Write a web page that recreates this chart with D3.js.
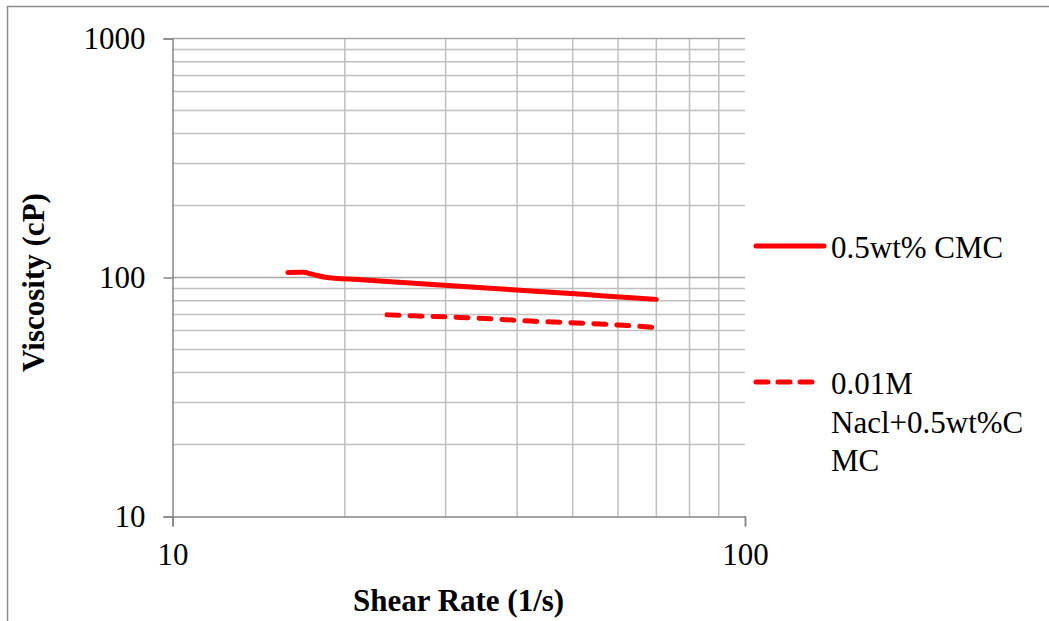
<!DOCTYPE html>
<html>
<head>
<meta charset="utf-8">
<script src="https://cdn.jsdelivr.net/npm/d3@7"></script>
<style>
  body { margin: 0; background: #fff; }
  text { font-family: "Liberation Serif", "Times New Roman", serif; fill: #000; }
</style>
</head>
<body>
<div id="main"></div>
<script>
'use strict';

// shear rate (1/s) and viscosity (cP)
var cmcRate = [15.9, 16.9, 17.6, 18.5, 21.1, 26.4, 31.7, 37, 42.3, 52.8, 63.4, 70];
var cmcVisc = [105, 105.2, 103, 100.3, 98, 94.6, 91.9, 89.7, 87.9, 84.8, 82.3, 81];
var naclRate = [23.7, 26.4, 31.7, 37, 42.3, 52.8, 63.4, 69];
var naclVisc = [69.8, 69.1, 68.1, 66.9, 65.7, 64.3, 62.8, 61.9];

var seriesNames = ["0.5wt% CMC", "0.01M Nacl+0.5wt%CMC"];
var legendLines = [["0.5wt% CMC"], ["0.01M", "Nacl+0.5wt%C", "MC"]];
var xTicks = [10, 100];
var yTicks = [10, 100, 1000];

var width = 1049;
var height = 621;
var red = "#ff0000";

var svg = d3.select('#main').append('svg')
	.attr("width", width)
	.attr("height", height);

// outer chart border (cut off at right and bottom)
svg.append('rect')
	.attr("x", 7.5).attr("y", 6.5)
	.attr("width", 1100).attr("height", 700)
	.style("fill", "none")
	.style("stroke", "#8c8c8c")
	.style("stroke-width", 1.5);

var x = d3.scaleLog().domain([10, 100]).range([172.5, 745]);
var y = d3.scaleLog().domain([10, 1000]).range([516.5, 38.5]);

// minor grid values
var xGrid = [];
for (var i = 2; i <= 9; i++) xGrid.push(i * 10);
var yGrid = [];
[10, 100].forEach(function (d) {
	for (var k = 2; k <= 9; k++) yGrid.push(d * k);
});

var grid = svg.append('g');
grid.selectAll('line.gx').data(xGrid).enter().append('line')
	.attr('x1', function (d) { return x(d); })
	.attr('x2', function (d) { return x(d); })
	.attr('y1', y(10)).attr('y2', y(1000))
	.style('stroke', '#c0c0c0').style('stroke-width', 1.5);
grid.selectAll('line.gy').data(yGrid).enter().append('line')
	.attr('y1', function (d) { return y(d); })
	.attr('y2', function (d) { return y(d); })
	.attr('x1', x(10)).attr('x2', x(100))
	.style('stroke', '#c0c0c0').style('stroke-width', 1.5);
grid.selectAll('line.gm').data([100, 1000]).enter().append('line')
	.attr('y1', function (d) { return y(d); })
	.attr('y2', function (d) { return y(d); })
	.attr('x1', x(10)).attr('x2', x(100))
	.style('stroke', '#a6a6a6').style('stroke-width', 1.5);

// axes
var xAxis = svg.append('g')
	.attr('transform', 'translate(0,' + y(10) + ')')
	.call(d3.axisBottom(x).tickValues(xTicks).tickSize(10).tickPadding(16)
		.tickFormat(d3.format('d')));
var yAxis = svg.append('g')
	.attr('transform', 'translate(' + x(10) + ',0)')
	.call(d3.axisLeft(y).tickValues(yTicks).tickSize(9).tickPadding(18)
		.tickFormat(d3.format('d')));
[xAxis, yAxis].forEach(function (a) {
	a.select('.domain').style('stroke', '#868686').style('stroke-width', 1.5);
	a.selectAll('.tick line').style('stroke', '#868686').style('stroke-width', 1.5);
	a.selectAll('.tick text')
		.attr('font-family', '"Liberation Serif", serif')
		.attr('font-size', '31px').style('fill', '#000');
});
yAxis.selectAll('.tick text').attr('dy', '0.33em');

// series
var line = d3.line()
	.x(function (d) { return x(d[0]); })
	.y(function (d) { return y(d[1]); })
	.curve(d3.curveMonotoneX);

var cmcData = d3.zip(cmcRate, cmcVisc);
var naclData = d3.zip(naclRate, naclVisc);

svg.append('path').datum(cmcData)
	.attr('d', line)
	.style('fill', 'none').style('stroke', red)
	.style('stroke-width', 5).style('stroke-linecap', 'round');
svg.append('path').datum(naclData)
	.attr('d', line)
	.style('fill', 'none').style('stroke', red)
	.style('stroke-width', 5).style('stroke-linecap', 'round')
	.style('stroke-dasharray', '12,11');

// axis titles
svg.append('text')
	.attr('x', x(31.6)).attr('y', 611)
	.attr('text-anchor', 'middle')
	.attr('font-size', '31px').attr('font-weight', 'bold')
	.text('Shear Rate (1/s)');
svg.append('text')
	.attr('transform', 'translate(44,' + (y(100) + 5) + ') rotate(-90)')
	.attr('text-anchor', 'middle')
	.attr('font-size', '31px').attr('font-weight', 'bold')
	.text('Viscosity (cP)');

// legend
var legendY = [246, 382];
var legend = svg.append('g');
seriesNames.forEach(function (name, idx) {
	var g = legend.append('g').attr('transform', 'translate(0,' + legendY[idx] + ')');
	g.append('line')
		.attr('x1', 756).attr('x2', idx === 0 ? 824 : 814)
		.attr('y1', 0).attr('y2', 0)
		.style('stroke', red).style('stroke-width', 5)
		.style('stroke-linecap', 'round')
		.style('stroke-dasharray', idx === 0 ? null : '12,10');
	g.selectAll('text').data(legendLines[idx]).enter().append('text')
		.attr('x', 831)
		.attr('y', function (d, j) { return 12 + j * 38.5; })
		.attr('font-size', '31px')
		.text(function (d) { return d; });
});
</script>
</body>
</html>
